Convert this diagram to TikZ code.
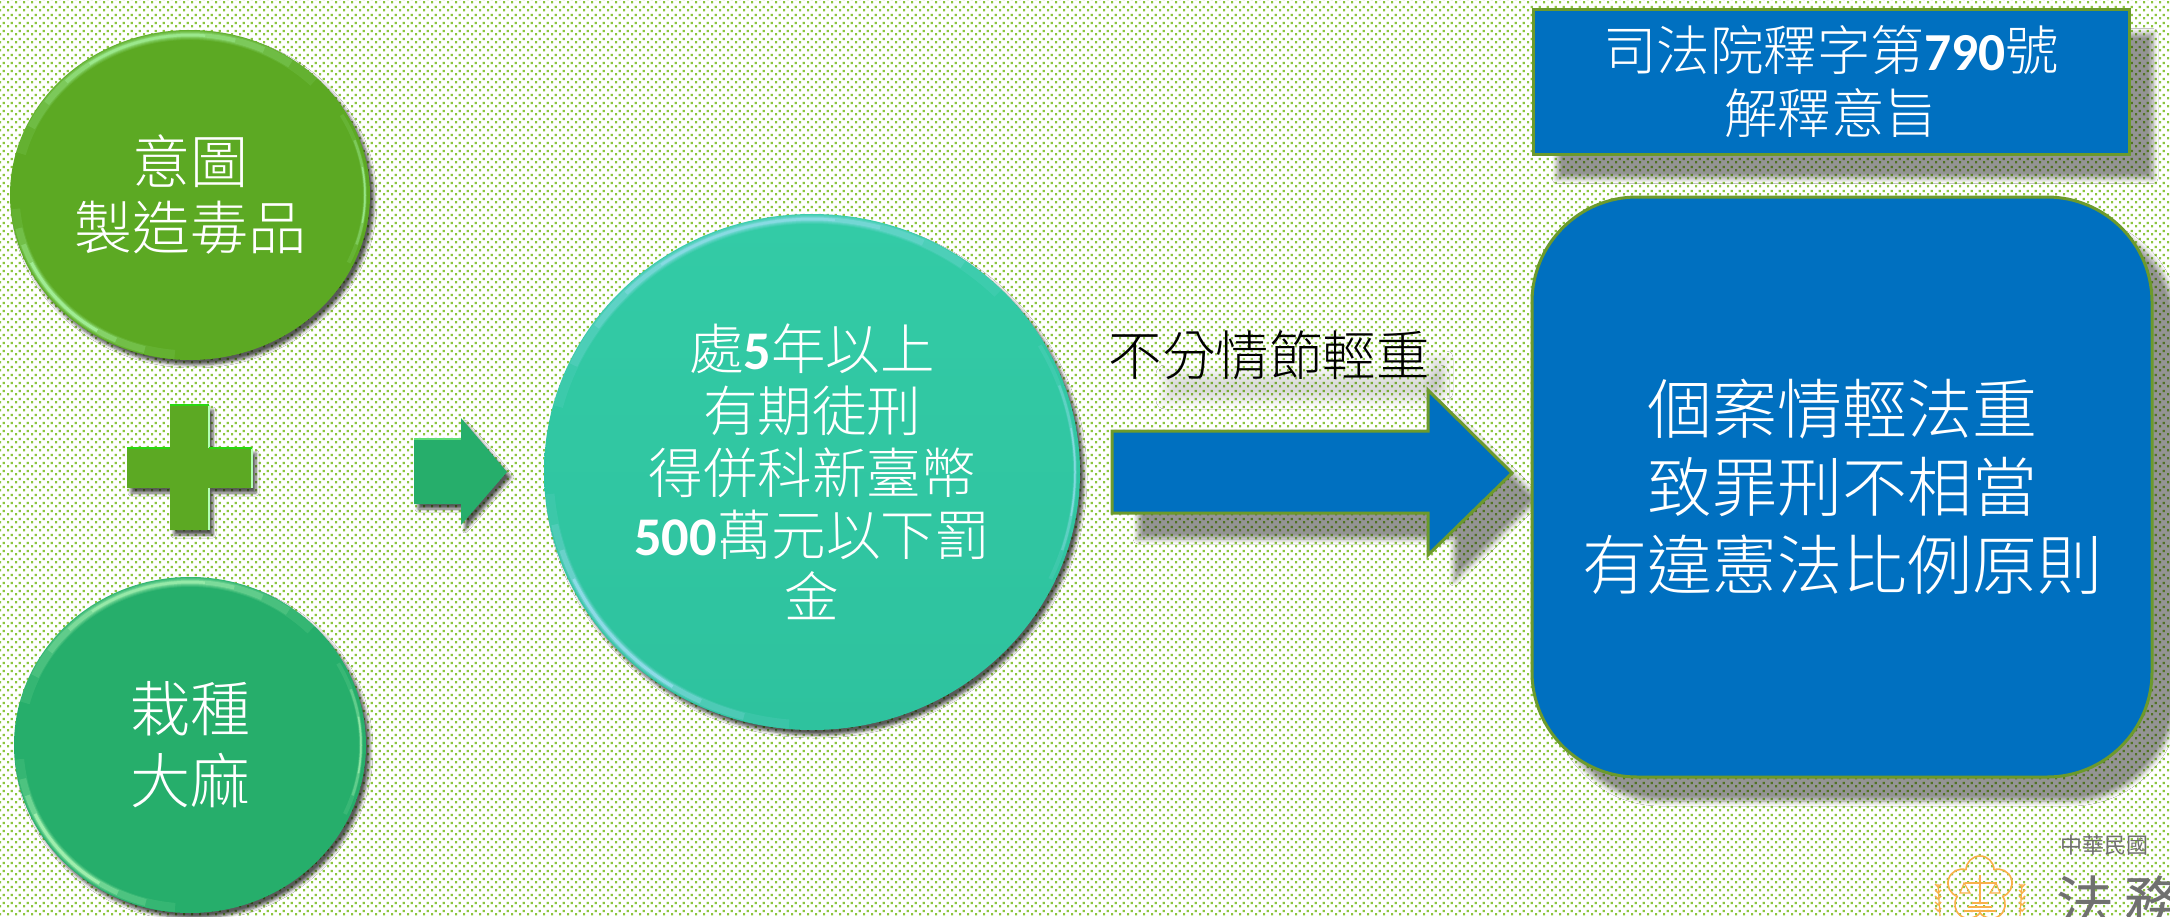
\documentclass[tikz,border=0pt]{standalone}
\usepackage{fontspec}
\setmainfont{Noto Sans CJK TC}[UprightFont=* Light]
\newfontfamily\numfont{Carlito}
\newfontfamily\sealfont{Noto Sans CJK TC}
\usetikzlibrary{shapes.geometric,patterns,shadows.blur}

\definecolor{dotgreen}{HTML}{8CC63F}
\definecolor{leafgreen}{HTML}{5CA923}
\definecolor{seagreen}{HTML}{26AE6B}
\definecolor{tealtop}{HTML}{33CBA6}
\definecolor{tealbot}{HTML}{2EC29E}
\definecolor{boxblue}{HTML}{0070C0}
\definecolor{boxedge}{HTML}{6C9A2C}
\definecolor{sealorange}{HTML}{F9B04A}
\definecolor{sealgray}{HTML}{707070}

\pgfdeclarepatternformonly{dotgrid}{\pgfqpoint{0pt}{0pt}}{\pgfqpoint{8pt}{8pt}}{\pgfqpoint{8pt}{8pt}}{%
  \pgfpathrectangle{\pgfqpoint{0pt}{1.8pt}}{\pgfqpoint{2.5pt}{2.5pt}}
  \pgfpathrectangle{\pgfqpoint{4pt}{5.5pt}}{\pgfqpoint{2.5pt}{2.5pt}}
  \pgfusepath{fill}}

\tikzset{%
softshade/.style={blur shadow={shadow xshift=4pt,shadow yshift=-5pt,shadow blur radius=3pt,shadow blur steps=6,shadow opacity=65}},
farshade/.style={blur shadow={shadow xshift=#1pt,shadow yshift=-#1pt,shadow blur radius=5pt,shadow blur steps=8,shadow opacity=42}},
disc/.style={ellipse,inner sep=0pt,outer sep=0pt,text=white,align=center,softshade},
panel/.style={rectangle,fill=boxblue,draw=boxedge,line width=3pt,inner sep=0pt,text=white,align=center}
}

% inner rim light of a disc
\newcommand{\discrim}[4]{%
  \begin{scope}
    \clip (#1.center) ellipse [x radius=#2,y radius=#3];
    \foreach \s/\e/\w/\o in {-165/-45/10/.10,-155/-55/8/.15,-145/-65/6/.2,-135/-75/4/.3,-125/-85/2.5/.4,
                             -265/-185/9/.1,-255/-192/7/.18,-245/-198/5/.3,-238/-205/3/.6,
                             -30/25/4/.12,-20/18/2.5/.3,-10/10/1.5/.5}
      \draw[#4,line width=\w pt,opacity=\o]
        ([shift={(\s:#2-5 and #3-5)}]#1.center) arc [start angle=\s,end angle=\e,x radius=#2-5,y radius=#3-5];
  \end{scope}}

\newcommand{\numb}[1]{{\numfont\bfseries #1}}

\begin{document}
\begin{tikzpicture}[x=1pt,y=-1pt]
  \useasboundingbox (0,0) rectangle (2170,916);
  \fill[white] (0,0) rectangle (2170,916);
  \fill[pattern=dotgrid,pattern color=dotgreen] (0,0) rectangle (2170,916);

  % left column
  \node (intent) [disc,fill=leafgreen,minimum width=360pt,minimum height=330pt,font=\fontsize{58}{66}\selectfont] at (190,195) {意圖\\製造毒品};
  \node (grow) [disc,fill=seagreen,minimum width=352pt,minimum height=336pt,font=\fontsize{60}{72}\selectfont] at (190,745) {栽種\\大麻};
  \discrim{intent}{180}{165}{green!30!white}
  \discrim{grow}{176}{168}{green!25!white}

  \draw[fill=leafgreen,draw=none,softshade] (170,405) -- (209,405) -- (209,448) -- (252,448) -- (252,488) -- (209,488) -- (209,530) -- (170,530) -- (170,488) -- (127,488) -- (127,448) -- (170,448) -- cycle;
  \draw[green!30!white,line width=1.5pt] (209,405) -- (209,448) (252,448) -- (252,488) (209,488) -- (209,530);
  \draw[green!55!leafgreen,line width=1.5pt] (170,405) -- (209,405) (127,448) -- (170,448) (209,448) -- (252,448);

  \draw[fill=seagreen,draw=none,softshade] (414,439) -- (461,439) -- (461,418) -- (507,472) -- (461,525) -- (461,504) -- (414,504) -- cycle;
  \draw[green!40!seagreen!70!white,line width=1.5pt] (414,439) -- (461,439);

  % penalty
  \node (penalty) [disc,top color=tealtop,bottom color=tealbot,minimum width=536pt,minimum height=516pt,font=\fontsize{54.5}{62}\selectfont] at (812,472)
    {處\numb{5}年以上\\有期徒刑\\得併科新臺幣\\\numb{500}萬元以下罰\\金};
  \discrim{penalty}{268}{258}{cyan!35!white}

  % text shade, then the long arrow
  \path[blur shadow={shadow xshift=0pt,shadow yshift=0pt,shadow blur radius=9pt,shadow blur steps=8,shadow opacity=14}] (1165,374) rectangle (1440,400);
  \path[blur shadow={shadow xshift=0pt,shadow yshift=0pt,shadow blur radius=7pt,shadow blur steps=8,shadow opacity=12}] (1430,358) rectangle (1446,392);
  \node (label) [font=\fontsize{53.5}{60}\selectfont,text=black,inner sep=0pt] at (1269,355) {不分情節輕重};
  \draw[fill=boxblue,draw=boxedge,line width=3pt,farshade=26] (1112,431) -- (1428,431) -- (1428,390) -- (1512,473) -- (1428,555) -- (1428,513) -- (1112,513) -- cycle;

  % right column
  \node (ruling) [panel,farshade=24,minimum width=596pt,minimum height=145pt,font=\fontsize{53.5}{63}\selectfont] at (1831,82)
    {司法院釋字第\numb{790}號\\解釋意旨};
  \node (result) [panel,rounded corners=105pt,farshade=24,minimum width=620pt,minimum height=580pt,font=\fontsize{65}{78}\selectfont] at (1842,487)
    {個案情輕法重\\致罪刑不相當\\有違憲法比例原則};

  % seal, cut by the page edge
  \coordinate (seal) at (1980,889);
  \foreach \a in {-90,-18,54,126,198}
    \draw[sealorange,line width=1.6pt] ([shift={(\a:19)}]seal) ++(\a-90:14) arc [start angle=\a-90,end angle=\a+90,radius=14];
  \draw[sealorange,line width=1.2pt] (1980,875) -- (1980,903) (1965,883) -- (1997,883);
  \draw[sealorange,line width=1.2pt] (1964,883) -- (1960,893) -- (1970,893) -- cycle (1996,883) -- (1990,893) -- (2000,893) -- cycle;
  \draw[sealorange,line width=1.6pt] (1972,903) -- (1988,903) (1968,907) -- (1992,907) (1964,911) -- (1996,911);
  \foreach \x/\d in {1938/1,2022/-1}{
    \draw[sealorange,line width=1.2pt] (\x,884) -- (\x+\d*2,916);
    \foreach \y in {884,890,896,902,908}
      \draw[sealorange,line width=1.4pt] (\x-3,\y) -- (\x,\y+3) -- (\x+3,\y);
  }
  \node (republic) [font=\sealfont\fontsize{22}{24}\selectfont,text=sealgray,inner sep=0pt] at (2104,845) {中華民國};
  \node (ministry) [font=\sealfont\fontsize{58}{60}\selectfont,text=sealgray,inner sep=0pt,anchor=west] at (2056,902) {法\hspace{10pt}務};
\end{tikzpicture}
\end{document}
